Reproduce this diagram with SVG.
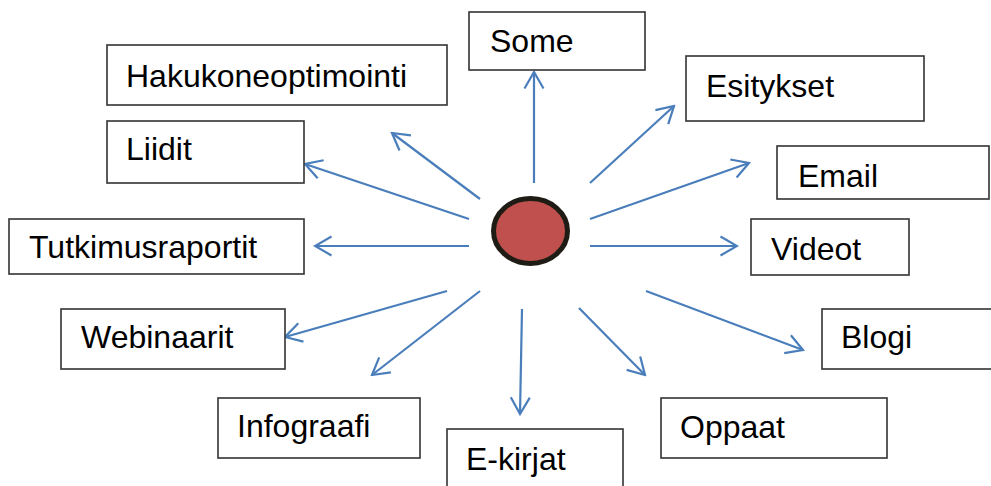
<svg xmlns="http://www.w3.org/2000/svg" width="991" height="486" viewBox="0 0 991 486">
<style>
.box{fill:#fff;stroke:#333;stroke-width:1.6}
.lbl{font-family:"Liberation Sans",Arial,sans-serif;font-size:32px;fill:#000}
.conn{stroke:#4A7EBB;stroke-width:2.2;fill:none;marker-end:url(#ah)}
</style>
<defs>
<marker id="ah" markerUnits="userSpaceOnUse" viewBox="-20 -12 22 24" refX="0" refY="0" markerWidth="22" markerHeight="24" orient="auto">
<path d="M -16.5 -9.5 L 0 0 L -16.5 9.5" fill="none" stroke="#4A7EBB" stroke-width="2.2"/>
</marker>
</defs>
<rect width="991" height="486" fill="#fff"/>
<g id="connectors">
<line class="conn" x1="534" y1="183" x2="534" y2="72"/>
<line class="conn" x1="590" y1="183" x2="674" y2="106"/>
<line class="conn" x1="590" y1="219" x2="749" y2="163"/>
<line class="conn" x1="590" y1="246" x2="737" y2="246"/>
<line class="conn" x1="646" y1="291" x2="803" y2="350"/>
<line class="conn" x1="579" y1="308" x2="645" y2="375"/>
<line class="conn" x1="522" y1="309" x2="520" y2="414"/>
<line class="conn" x1="480" y1="291" x2="372" y2="375"/>
<line class="conn" x1="447" y1="291" x2="285" y2="337"/>
<line class="conn" x1="469" y1="246" x2="315" y2="246"/>
<line class="conn" x1="469" y1="219" x2="305" y2="164"/>
<line class="conn" x1="480" y1="199" x2="392" y2="133"/>
</g>
<g id="center"><ellipse cx="530.5" cy="231" rx="37" ry="32.5" fill="#C0504D" stroke="#1f1c15" stroke-width="5"/></g>
<g id="some"><rect class="box" x="469" y="12" width="176" height="58"/><text class="lbl" x="490" y="52">Some</text></g>
<g id="hakukoneoptimointi"><rect class="box" x="107" y="45" width="340" height="60"/><text class="lbl" x="126" y="87">Hakukoneoptimointi</text></g>
<g id="liidit"><rect class="box" x="107" y="121" width="197" height="62"/><text class="lbl" x="126" y="160">Liidit</text></g>
<g id="tutkimusraportit"><rect class="box" x="9" y="219" width="295" height="55"/><text class="lbl" x="29" y="258">Tutkimusraportit</text></g>
<g id="webinaarit"><rect class="box" x="61" y="309" width="224" height="60"/><text class="lbl" x="81" y="348">Webinaarit</text></g>
<g id="infograafi"><rect class="box" x="218" y="398" width="202" height="60"/><text class="lbl" x="237" y="437">Infograafi</text></g>
<g id="ekirjat"><rect class="box" x="447" y="429" width="176" height="70"/><text class="lbl" x="466" y="470">E-kirjat</text></g>
<g id="oppaat"><rect class="box" x="661" y="398" width="226" height="60"/><text class="lbl" x="680" y="438">Oppaat</text></g>
<g id="blogi"><rect class="box" x="822" y="309" width="180" height="60"/><text class="lbl" x="841" y="348">Blogi</text></g>
<g id="videot"><rect class="box" x="751" y="219" width="158" height="56"/><text class="lbl" x="771" y="260">Videot</text></g>
<g id="email"><rect class="box" x="777" y="146" width="212" height="53"/><text class="lbl" x="798" y="187">Email</text></g>
<g id="esitykset"><rect class="box" x="686" y="56" width="238" height="65"/><text class="lbl" x="706" y="97">Esitykset</text></g>
</svg>
